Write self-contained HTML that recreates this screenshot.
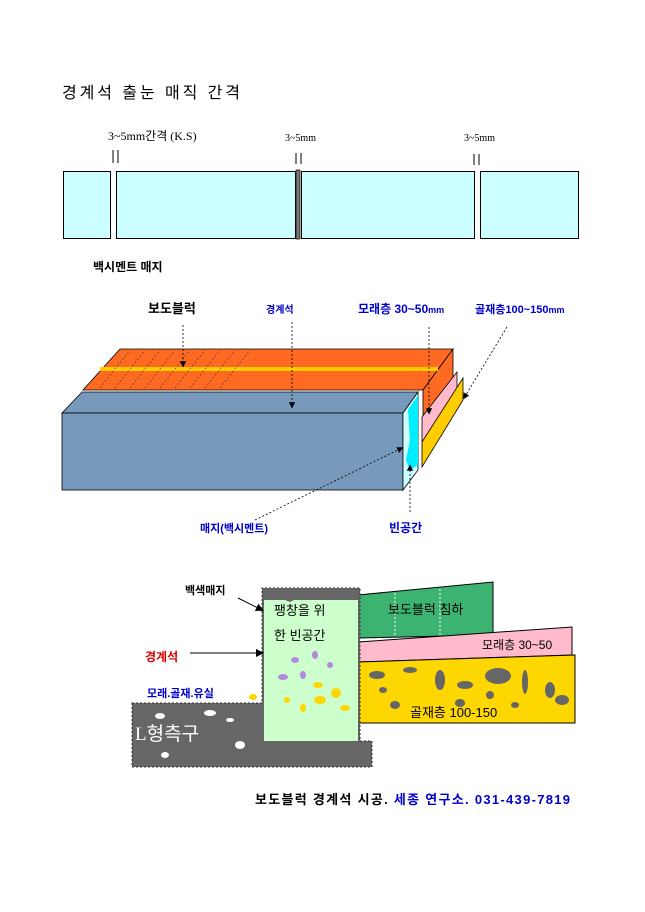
<!DOCTYPE html>
<html><head><meta charset="utf-8"><style>
body{margin:0;background:#fff;}
svg{display:block;font-family:"Liberation Sans","Noto Sans CJK KR",sans-serif;}
.b{font-weight:bold}
</style></head><body>
<svg width="645" height="912" viewBox="0 0 645 912" xmlns="http://www.w3.org/2000/svg">
<defs><marker id="ar" markerWidth="8" markerHeight="8" refX="6" refY="4" orient="auto"><path d="M0,0 L8,4 L0,8z" fill="#000"/></marker></defs>
<!-- section 1 -->
<text x="62" y="98" font-size="16" textLength="178" lengthAdjust="spacing">경계석 출눈 매직 간격</text>
<text x="108" y="140" font-size="12" font-family="Liberation Serif,Noto Sans CJK KR,serif">3~5mm간격 (K.S)</text>
<text x="285" y="141" font-size="10" font-family="Liberation Serif,serif">3~5mm</text>
<text x="464" y="141" font-size="10" font-family="Liberation Serif,serif">3~5mm</text>
<g stroke="#000" stroke-width="1">
<line x1="113" y1="150" x2="113" y2="163"/><line x1="118" y1="150" x2="118" y2="163"/>
<line x1="296" y1="153" x2="296" y2="164"/><line x1="301" y1="153" x2="301" y2="164"/>
<line x1="474" y1="154" x2="474" y2="165"/><line x1="479" y1="154" x2="479" y2="165"/>
</g>
<g fill="#ccffff" stroke="#000">
<rect x="63.5" y="171.5" width="47" height="67"/>
<rect x="116.5" y="171.5" width="179" height="67"/>
<rect x="301.5" y="171.5" width="173" height="67"/>
<rect x="480.5" y="171.5" width="98" height="67"/>
</g>
<rect x="296" y="170" width="4" height="69" fill="#777" stroke="#000" stroke-width="0.7"/>
<text x="93" y="271" font-size="12" class="b">백시멘트 매지</text>
<!-- section 2 -->
<text x="148" y="313" font-size="13" class="b">보도블럭</text>
<text x="266" y="313" font-size="10" class="b" fill="#0000cc">경계석</text>
<text x="358" y="313" font-size="12" class="b" fill="#0000cc">모래층 30~50<tspan font-size="9">mm</tspan></text>
<text x="475" y="313" font-size="11" class="b" fill="#0000cc">골재층100~150<tspan font-size="9">mm</tspan></text>
<polygon points="83,390 120,349 453,349 423,390" fill="#ff6a22" stroke="#000" stroke-width="0.8"/>
<polygon points="423,390 453,349 453,380 423,420" fill="#ff6a22" stroke="#000" stroke-width="0.8"/>
<rect x="100" y="367" width="338" height="4" fill="#ffcc00"/>
<g stroke="#333" stroke-width="0.6" stroke-dasharray="2,2">
<line x1="100" y1="388" x2="130" y2="350"/><line x1="115" y1="388" x2="145" y2="350"/><line x1="130" y1="388" x2="160" y2="350"/><line x1="145" y1="388" x2="175" y2="350"/><line x1="160" y1="388" x2="190" y2="350"/><line x1="175" y1="388" x2="205" y2="350"/><line x1="190" y1="388" x2="220" y2="350"/><line x1="205" y1="388" x2="235" y2="350"/><line x1="220" y1="388" x2="250" y2="350"/>
</g>
<polygon points="62,413 82,392 418,392 403,413" fill="#7799bb" stroke="#000" stroke-width="0.8"/>
<rect x="62" y="413" width="341" height="77" fill="#7799bb" stroke="#000" stroke-width="0.8"/>
<polygon points="403,413 418,392 418,470 403,490" fill="#ccffff" stroke="#000" stroke-width="0.8"/>
<path d="M408,410 L418,395 L418,465 L410,470 L406,460 L410,440z" fill="#00eeff"/>
<polygon points="422,417 457,372 457,400 422,442" fill="#ffbbcc" stroke="#000" stroke-width="0.8"/>
<polygon points="422,442 463,378 463,400 422,467" fill="#ffcc00" stroke="#000" stroke-width="0.8"/>
<g stroke="#000" stroke-width="0.8" stroke-dasharray="2,2" fill="none" marker-end="url(#ar)">
<line x1="183" y1="325" x2="183" y2="366"/>
<line x1="292" y1="322" x2="292" y2="407"/>
<line x1="429" y1="327" x2="429" y2="413"/>
<line x1="507" y1="327" x2="464" y2="398"/>
<line x1="255" y1="520" x2="402" y2="448"/>
<line x1="410" y1="512" x2="410" y2="466"/>
</g>
<text x="200" y="532" font-size="11" class="b" fill="#0000cc">매지(백시멘트)</text>
<text x="389" y="532" font-size="12" class="b" fill="#0000cc">빈공간</text>
<!-- section 3 -->
<polygon points="358,595 493,582 493,635 358,638" fill="#3cb371" stroke="#000"/>
<line x1="395" y1="593" x2="395" y2="637" stroke="#fff" stroke-dasharray="2,2"/>
<line x1="440" y1="589" x2="440" y2="636" stroke="#fff" stroke-dasharray="2,2"/>
<text x="388" y="614" font-size="13">보도블럭 침하</text>
<polygon points="358,642 572,627 572,655 358,662" fill="#ffbbcc" stroke="#000"/>
<text x="482" y="649" font-size="12">모래층 30~50</text>
<polygon points="358,662 575,655 575,723 358,723" fill="#ffd700" stroke="#000"/>
<g fill="#666">
<ellipse cx="377" cy="675" rx="8" ry="4"/><ellipse cx="410" cy="670" rx="7" ry="3"/><ellipse cx="440" cy="680" rx="5" ry="10"/><ellipse cx="465" cy="685" rx="8" ry="4"/><ellipse cx="498" cy="676" rx="13" ry="8"/><ellipse cx="525" cy="682" rx="3" ry="12"/><ellipse cx="550" cy="690" rx="5" ry="8"/><ellipse cx="562" cy="700" rx="7" ry="5"/><ellipse cx="395" cy="705" rx="5" ry="4"/><ellipse cx="460" cy="703" rx="5" ry="4"/><ellipse cx="490" cy="695" rx="4" ry="4"/><ellipse cx="515" cy="705" rx="4" ry="3"/><ellipse cx="383" cy="690" rx="4" ry="3"/>
</g>
<text x="410" y="717" font-size="13">골재층 100-150</text>
<path d="M132,703 L262,703 L262,588 L360,588 L360,741 L372,741 L372,767 L132,767z" fill="#666" stroke="#333" stroke-dasharray="2,2"/>
<rect x="264" y="600" width="94" height="141" fill="#ccffcc"/>
<path d="M264,600 L275,596 L290,602 L305,594 L325,600 L345,592 L358,596 L358,588 L264,588z" fill="#666"/>
<g fill="#fff"><ellipse cx="160" cy="716" rx="5" ry="3"/><ellipse cx="210" cy="713" rx="6" ry="3"/><ellipse cx="240" cy="745" rx="5" ry="4"/><ellipse cx="165" cy="755" rx="4" ry="3"/><ellipse cx="230" cy="720" rx="4" ry="2"/></g>
<text x="135" y="740" font-size="19" fill="#fff" font-family="Liberation Serif,Noto Sans CJK KR,serif">L형측구</text>
<g fill="#b388dd"><ellipse cx="295" cy="660" rx="4" ry="3"/><ellipse cx="315" cy="655" rx="3" ry="4"/><ellipse cx="283" cy="677" rx="5" ry="3"/><ellipse cx="303" cy="675" rx="3" ry="4"/><ellipse cx="330" cy="665" rx="3" ry="3"/></g>
<g fill="#ffd700"><ellipse cx="318" cy="685" rx="5" ry="3"/><ellipse cx="336" cy="693" rx="5" ry="5"/><ellipse cx="320" cy="700" rx="6" ry="4"/><ellipse cx="287" cy="700" rx="3" ry="3"/><ellipse cx="303" cy="708" rx="3" ry="4"/><ellipse cx="345" cy="708" rx="5" ry="3"/><ellipse cx="253" cy="697" rx="4" ry="3"/></g>
<text x="274" y="615" font-size="13">팽창을 위</text>
<text x="274" y="640" font-size="13">한 빈공간</text>
<text x="185" y="594" font-size="11" class="b">백색매지</text>
<text x="145" y="661" font-size="12" class="b" fill="#dd0000">경계석</text>
<text x="147" y="697" font-size="11" class="b" fill="#0000cc">모래.골재.유실</text>
<g stroke="#000" fill="none" marker-end="url(#ar)">
<line x1="238" y1="598" x2="262" y2="610"/>
<line x1="190" y1="653" x2="262" y2="653"/>
</g>
<text x="255" y="804" font-size="13" class="b" textLength="315" lengthAdjust="spacing">보도블럭 경계석 시공. <tspan fill="#0000cc">세종 연구소. 031-439-7819</tspan></text>
</svg>
</body></html>
